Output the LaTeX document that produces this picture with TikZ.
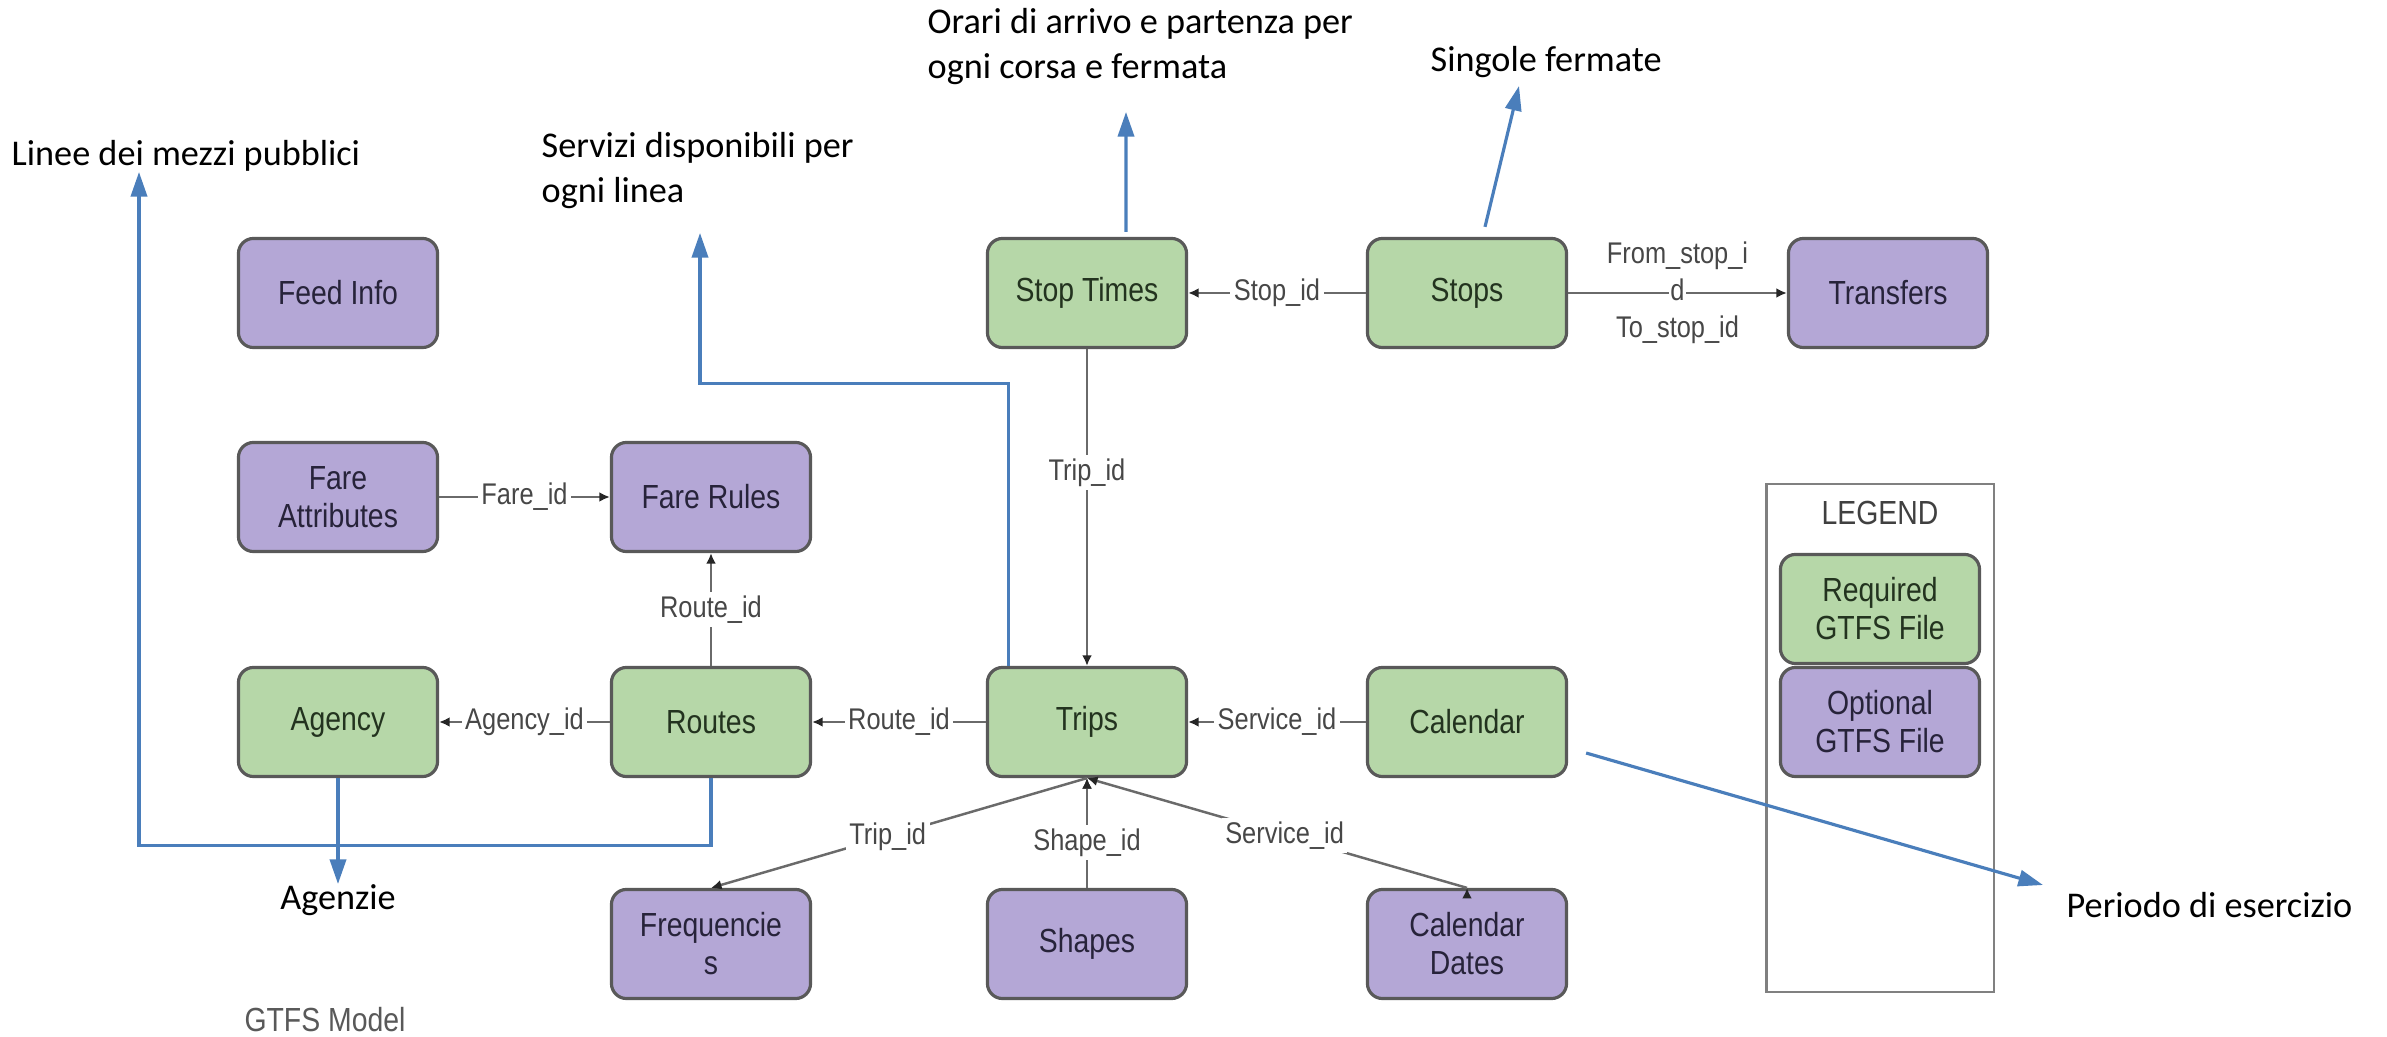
\documentclass[tikz,border=0pt]{standalone}
\usepackage{fontspec}
\setmainfont{Liberation Sans}
\newfontfamily\notefont{Carlito}
\newfontfamily\boxfont[FakeStretch=0.85]{Liberation Sans}
\usetikzlibrary{arrows.meta}

\definecolor{reqgreen}{HTML}{B6D7A8}
\definecolor{optpurple}{HTML}{B4A7D6}
\definecolor{reqtext}{HTML}{23331F}
\definecolor{opttext}{HTML}{27233A}
\definecolor{boxedge}{HTML}{595959}
\definecolor{linkgray}{HTML}{6A6A6A}
\definecolor{noteblue}{HTML}{4A7EBB}

\tikzset{
	file/.style={draw=boxedge, line width=0.9pt, rounded corners=0.15cm,
		minimum width=1.99cm, minimum height=1.09cm, align=center,
		font=\boxfont\fontsize{9.5}{10.8}\selectfont},
	required/.style={file, fill=reqgreen, text=reqtext},
	optional/.style={file, fill=optpurple, text=opttext},
	link/.style={draw=linkgray, line width=0.7pt,
		-{Latex[length=3pt,width=2.8pt,color=black!85]}},
	key/.style={fill=white, inner sep=1pt, text=black!72,
		font=\boxfont\fontsize{8.5}{10.5}\selectfont},
	note/.style={draw=noteblue, line width=0.9pt,
		-{Triangle[length=7pt,width=4.6pt]}},
	notetext/.style={font=\notefont\fontsize{10.3}{12.8}\selectfont,
		align=left, inner sep=0pt},
}

\begin{document}
\begin{tikzpicture}[x=0.01cm, y=-0.01cm]

	\fill[white] (0,0) rectangle (2387,1037);
	\useasboundingbox (0,0) rectangle (2387,1037);

	% GTFS files
	\node[optional] (feed)      at (338, 293)  {Feed Info};
	\node[required] (stoptimes) at (1087, 293) {Stop Times};
	\node[required] (stops)     at (1467, 293) {Stops};
	\node[optional] (transfers) at (1888, 293) {Transfers};
	\node[optional] (fareattr)  at (338, 497)  {Fare\\Attributes};
	\node[optional] (farerules) at (711, 497)  {Fare Rules};
	\node[required] (agency)    at (338, 722)  {Agency};
	\node[required] (routes)    at (711, 722)  {Routes};
	\node[required] (trips)     at (1087, 722) {Trips};
	\node[required] (calendar)  at (1467, 722) {Calendar};
	\node[optional] (freq)      at (711, 944)  {Frequencie\\s};
	\node[optional] (shapes)    at (1087, 944) {Shapes};
	\node[optional] (caldates)  at (1467, 944) {Calendar\\Dates};

	\node[text=black!65, font=\boxfont\fontsize{9.5}{10.8}\selectfont] (model) at (325, 1020) {GTFS Model};

	% legend
	\node[draw=black!50, line width=0.6pt, minimum width=2.27cm, minimum height=5.07cm] (legend) at (1880, 738) {};
	\node[text=black!75, font=\boxfont\fontsize{9.5}{10.8}\selectfont] (legendtitle) at (1880, 513) {LEGEND};
	\node[required] (legreq) at (1880, 609) {Required\\GTFS File};
	\node[optional] (legopt) at (1880, 722) {Optional\\GTFS File};

	% keys
	\path[link] (stops) edge node[key] {Stop\_id} (stoptimes);
	\path[link] (stops) edge node[key, fill=none, align=center] {From\_stop\_i\\{\fboxsep=0.5pt\colorbox{white}{d}}\\To\_stop\_id} (transfers);
	\path[link] (stoptimes) edge node[key, pos=0.39] {Trip\_id} (trips);
	\path[link] (fareattr) edge node[key] {Fare\_id} (farerules);
	\path[link] (routes) edge node[key] {Route\_id} (farerules);
	\path[link] (routes) edge node[key] {Agency\_id} (agency);
	\path[link] (trips) edge node[key] {Route\_id} (routes);
	\path[link] (calendar) edge node[key] {Service\_id} (trips);
	\path[link] (trips.south) edge node[key, pos=0.53] {Trip\_id} (freq.north);
	\path[link] (shapes) edge node[key, pos=0.41] {Shape\_id} (trips);
	\path[link] (caldates.north) edge node[key, pos=0.48] {Service\_id} (trips.south);

	% notes
	\node[notetext, anchor=north west] (linee) at (11, 140) {Linee dei mezzi pubblici};
	\node[notetext, anchor=north west] (servizi) at (541, 132) {Servizi disponibili per\\ogni linea};
	\node[notetext, anchor=north west] (orari) at (927, 8) {Orari di arrivo e partenza per\\ogni corsa e fermata};
	\node[notetext, anchor=north west] (singole) at (1430, 46) {Singole fermate};
	\node[notetext, anchor=north] (agenzie) at (338, 884) {Agenzie};
	\node[notetext, anchor=west] (periodo) at (2066, 905) {Periodo di esercizio};

	\coordinate (lineetip) at (139, 172);
	\coordinate (servizitip) at (700, 233);
	\coordinate (oraritip) at (1126, 112);
	\coordinate (singoletip) at (1519, 86);
	\coordinate (periodotip) at (2043, 885);

	\draw[note] (routes.south) -- ++(0, 67) -| (lineetip);
	\draw[note] ([xshift=0.23cm]trips.north west) -- ++(0, -282) -| (servizitip);
	\draw[note] ([xshift=0.39cm, yshift=0.05cm]stoptimes.north) -- (oraritip);
	\draw[note] ([xshift=0.18cm, yshift=0.1cm]stops.north) -- (singoletip);
	\draw[note] (agency.south) -- (agenzie.north);
	\draw[note] ([xshift=0.18cm, yshift=-0.31cm]calendar.east) -- (periodotip);

\end{tikzpicture}
\end{document}
